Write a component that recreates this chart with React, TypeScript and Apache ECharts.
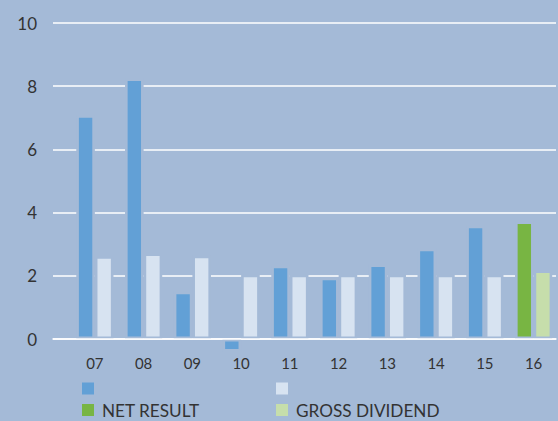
import React, { useEffect, useRef } from "react";
import * as echarts from "echarts";

const categories = ["07", "08", "09", "10", "11", "12", "13", "14", "15", "16"];
const netResult = [7.08, 8.25, 1.5, -0.4, 2.32, 1.94, 2.36, 2.86, 3.59, null];
const grossDividend = [2.62, 2.71, 2.64, 2.04, 2.04, 2.04, 2.04, 2.04, 2.04, null];
const netResult16 = [null, null, null, null, null, null, null, null, null, 3.72];
const grossDividend16 = [null, null, null, null, null, null, null, null, null, 2.17];
const yTicks = [0, 2, 4, 6, 8, 10];

const BG = "#A4BAD7";
const FONT = "Lato";

export default function App() {
  const ref = useRef<HTMLDivElement>(null);
  useEffect(() => {
    document.body.style.margin = "0";
    const chart = echarts.init(ref.current!, null, { renderer: "svg" });
    const barBase = {
      type: "bar",
      xAxisIndex: 0,
      yAxisIndex: 0,
      barWidth: 18.6,
      barGap: "0%",
      clip: false,
      z: 2,
    };
    const border = { borderColor: BG, borderWidth: 2.6 };
    const legendText = { color: "#333", fontSize: 17.2, lineHeight: 20, fontFamily: FONT, padding: [6, 0, 0, 3] };
    const mkLegend = (name: string, left: number, top: number, label: string) => ({
      left,
      top,
      padding: 0,
      data: [name],
      icon: "rect",
      itemWidth: 12,
      itemHeight: 12,
      itemStyle: { borderWidth: 0 },
      formatter: () => label,
      textStyle: label ? legendText : { fontSize: 1, lineHeight: 1, padding: 0 },
    });
    chart.setOption({
      animation: false,
      backgroundColor: BG,
      textStyle: { fontFamily: FONT },
      grid: [
        { left: 70.5, width: 489.5, top: 23, bottom: 82 },
        { left: 53, right: 2, top: 23, bottom: 82 },
      ],
      xAxis: [
        {
          type: "category",
          gridIndex: 0,
          data: categories,
          axisLine: { show: false },
          axisTick: { show: false },
          axisLabel: { color: "#333", fontSize: 15, margin: 16, fontFamily: FONT },
        },
        {
          type: "value",
          gridIndex: 1,
          min: 0,
          max: 1,
          z: 10,
          axisLine: { show: true, onZero: false, lineStyle: { color: "#ffffff", width: 1.5 } },
          axisTick: { show: false },
          axisLabel: { show: false },
          splitLine: { show: false },
        },
      ],
      yAxis: [
        { type: "value", gridIndex: 0, min: yTicks[0], max: yTicks[yTicks.length - 1], interval: 2, show: false },
        {
          type: "value",
          gridIndex: 1,
          min: yTicks[0],
          max: yTicks[yTicks.length - 1],
          interval: 2,
          z: 0,
          axisLine: { show: false },
          axisTick: { show: false },
          axisLabel: { color: "#333", fontSize: 17, margin: 16, fontFamily: FONT },
          splitLine: { show: true, lineStyle: { color: "#ffffff", width: 1.5 } },
        },
      ],
      legend: [
        mkLegend("net", 82, 382.5, ""),
        mkLegend("NET RESULT", 82, 397, "NET RESULT"),
        mkLegend("div", 276, 382.5, ""),
        mkLegend("GROSS DIVIDEND", 276, 397, "GROSS DIVIDEND"),
      ],
      series: [
        { ...barBase, name: "net", stack: "a", data: netResult, itemStyle: { color: "#62A0D6", ...border } },
        { ...barBase, name: "div", stack: "b", data: grossDividend, itemStyle: { color: "#D7E3F1", ...border } },
        { ...barBase, name: "NET RESULT", stack: "a", data: netResult16, itemStyle: { color: "#78B543", ...border } },
        { ...barBase, name: "GROSS DIVIDEND", stack: "b", data: grossDividend16, itemStyle: { color: "#C6DEAB", ...border } },
      ],
    });
    return () => chart.dispose();
  }, []);
  return <div ref={ref} style={{ width: 558, height: 421 }} />;
}
